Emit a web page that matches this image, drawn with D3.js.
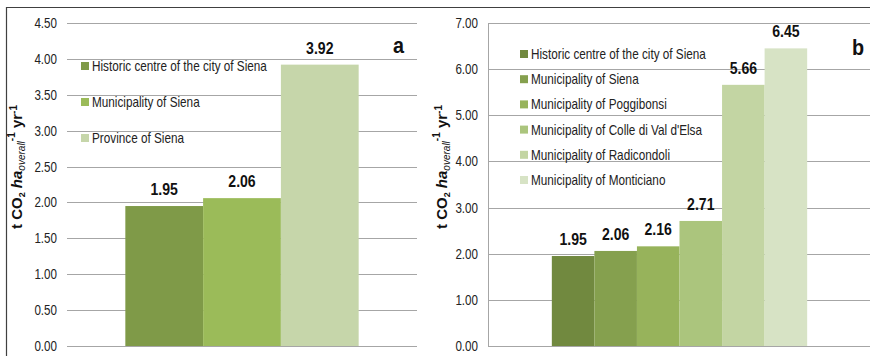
<!DOCTYPE html>
<html><head><meta charset="utf-8">
<script src="https://cdn.jsdelivr.net/npm/d3@7"></script>
<style>body{margin:0;background:#fff}svg{display:block}</style>
</head><body>
<svg id="c" width="870" height="356"></svg>
<script>
const catsA = ["Historic centre of the city of Siena","Municipality of Siena","Province of Siena"];
const valsA = [1.95, 2.06, 3.92];
const colorsA = ["#7F9A48","#9BBB59","#C6D6AA"];
const ticksA = [0,0.5,1,1.5,2,2.5,3,3.5,4,4.5];

const catsB = ["Historic centre of the city of Siena","Municipality of Siena","Municipality of Poggibonsi","Municipality of Colle di Val d'Elsa","Municipality of Radicondoli","Municipality of Monticiano"];
const valsB = [1.95, 2.06, 2.16, 2.71, 5.66, 6.45];
const colorsB = ["#71893F","#85A04E","#97B35B","#ABC57D","#C3D5A3","#D7E3C5"];
const ticksB = [0,1,2,3,4,5,6,7];

const FONT = "'Liberation Sans',Arial,sans-serif";
const svg = d3.select("#c");

// helper: condensed text (scaled horizontally)
function ctext(parent, x, y, s, str, attrs){
  const g = parent.append("g").attr("transform",`translate(${x},${y}) scale(${s},1)`);
  const t = g.append("text").attr("x",0).attr("y",0).attr("font-family",FONT).text(str);
  Object.entries(attrs||{}).forEach(([k,v])=>t.attr(k,v));
  return t;
}

// outer frame
svg.append("line").attr("x1",6).attr("x2",870).attr("y1",7.5).attr("y2",7.5).attr("stroke","#404040").attr("stroke-width",1.2);
svg.append("line").attr("x1",6.5).attr("x2",6.5).attr("y1",7).attr("y2",356).attr("stroke","#404040").attr("stroke-width",1.2);

function panel(o){
  const g = svg.append("g");
  const y = d3.scaleLinear().domain([0,o.max]).range([346,23]);
  const x = d3.scaleBand().domain(o.cats).range([o.x0,o.x1]).paddingInner(0).paddingOuter(o.pad);
  g.selectAll("line.grid").data(o.ticks).join("line")
    .attr("x1",o.x0).attr("x2",o.x1)
    .attr("y1",d=>Math.round(y(d))+0.5).attr("y2",d=>Math.round(y(d))+0.5)
    .attr("stroke","#A6A6A6").attr("stroke-width",1);
  if(o.axisLine){
    g.append("line").attr("x1",o.x0+0.5).attr("x2",o.x0+0.5).attr("y1",y(o.max)).attr("y2",y(0))
      .attr("stroke","#A6A6A6");
  }
  o.ticks.forEach(d=>{
    ctext(g, o.tickX, y(d)+5, 0.83, d.toFixed(2), {"text-anchor":"end","font-size":14,"fill":"#222"});
  });
  g.selectAll("rect.bar").data(o.vals).join("rect")
    .attr("x",(d,i)=>x(o.cats[i])).attr("width",x.bandwidth())
    .attr("y",d=>y(d)).attr("height",d=>y(0)-y(d))
    .attr("fill",(d,i)=>o.colors[i]);
  o.vals.forEach((d,i)=>{
    ctext(g, x(o.cats[i])+x.bandwidth()/2, y(d)-11, 0.88, d.toFixed(2),
      {"text-anchor":"middle","font-weight":"bold","font-size":16,"fill":"#111"});
  });
  o.cats.forEach((c,i)=>{
    const cy = o.legY + i*o.legStep;
    g.append("rect").attr("x",o.legX).attr("y",cy-4).attr("width",8).attr("height",8).attr("fill",o.colors[i]);
    ctext(g, o.legX+11, cy+5, 0.84, c, {"font-size":14,"fill":"#222"});
  });
  ctext(g, o.letX, o.letY, 0.9, o.letter, {"font-weight":"bold","font-size":22,"fill":"#111"});
  const t = g.append("text").attr("transform",`translate(${o.titleX},${o.titleY}) rotate(-90)`)
    .attr("text-anchor","middle").attr("font-family",FONT).attr("font-size",15).attr("font-weight","bold").attr("fill","#111");
  t.append("tspan").text("t CO");
  t.append("tspan").attr("font-size",9).attr("dy",3).text("2");
  t.append("tspan").attr("dy",-3).text(" ");
  t.append("tspan").attr("font-style","italic").text("ha");
  t.append("tspan").attr("font-style","italic").attr("font-weight","normal").attr("font-size",10).attr("dy",3).text("overall");
  t.append("tspan").attr("font-size",10).attr("dy",-10).text("-1");
  t.append("tspan").attr("dy",7).text(" yr");
  t.append("tspan").attr("font-size",10).attr("dy",-5).text("-1");
}

panel({cats:catsA, vals:valsA, colors:colorsA, ticks:ticksA, max:4.5, x0:67, x1:417, pad:0.75,
  tickX:57, legX:81, legY:66, legStep:36, letter:"a", letX:393, letY:53, titleX:22, titleY:167, axisLine:false});
panel({cats:catsB, vals:valsB, colors:colorsB, ticks:ticksB, max:7, x0:488, x1:871, pad:1.5,
  tickX:478, legX:520, legY:54, legStep:25.2, letter:"b", letX:852, letY:55, titleX:447, titleY:167, axisLine:true});
</script>
</body></html>
